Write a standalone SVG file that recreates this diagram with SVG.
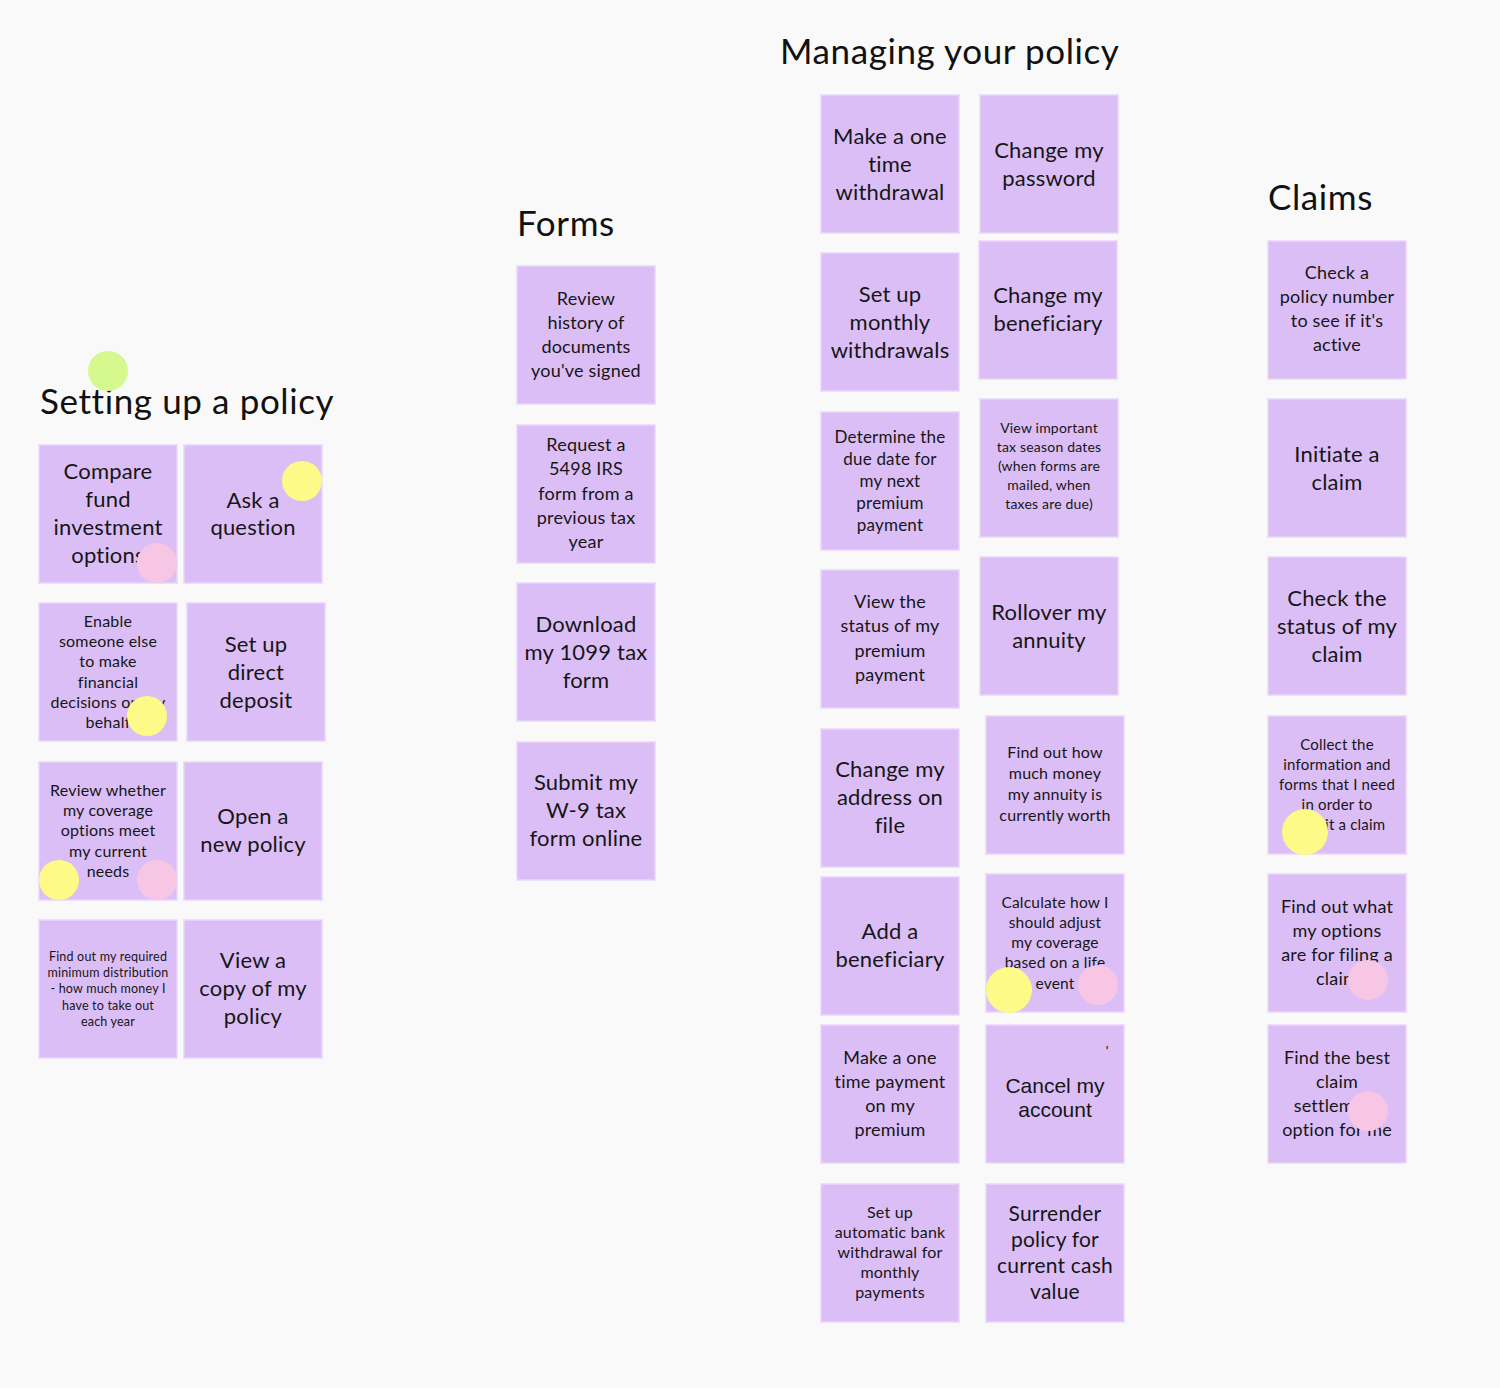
<svg xmlns="http://www.w3.org/2000/svg" width="1500" height="1388" viewBox="0 0 1500 1388">
<style>
.bg{fill:#f9f9f9}
.s{fill:#dcbef6;stroke:#e9d6fa;stroke-width:1.5}
.t{font-family:Lato,"Open Sans","Liberation Sans",sans-serif;fill:#161616;text-anchor:middle;letter-spacing:0.2px}
.h{font-family:Lato,"Open Sans","Liberation Sans",sans-serif;fill:#111;font-size:35px;letter-spacing:0.6px}
.xl{font-size:22px}.l{font-size:18px}.m{font-size:16px}.sm{font-size:14.5px}.xs{font-size:12.5px}
.a{font-family:"Liberation Sans",Arial,sans-serif;letter-spacing:0}
.y{fill:#fdfa87}.p{fill:#f6c6e4}.g{fill:#d5f98e}
</style>
<rect class="bg" width="1500" height="1388"/>

<g id="titles">
<text class="h" x="40" y="414">Setting up a policy</text>
<text class="h" x="517" y="236">Forms</text>
<text class="h" x="780" y="64">Managing your policy</text>
<text class="h" x="1268" y="210">Claims</text>
</g>

<!-- Setting up a policy -->
<g id="n-compare"><rect class="s" x="39" y="445" width="138" height="138"/>
<text class="t xl" x="108"><tspan x="108" y="479">Compare</tspan><tspan x="108" y="507">fund</tspan><tspan x="108" y="535">investment</tspan><tspan x="108" y="563">options</tspan></text></g>
<g id="n-ask"><rect class="s" x="184" y="445" width="138" height="138"/>
<text class="t xl"><tspan x="253" y="508">Ask a</tspan><tspan x="253" y="535">question</tspan></text></g>
<g id="n-enable"><rect class="s" x="39" y="603" width="138" height="138"/>
<text class="t m"><tspan x="108" y="627">Enable</tspan><tspan x="108" y="647">someone else</tspan><tspan x="108" y="667">to make</tspan><tspan x="108" y="688">financial</tspan><tspan x="108" y="708">decisions on my</tspan><tspan x="108" y="728">behalf</tspan></text></g>
<g id="n-deposit"><rect class="s" x="187" y="603" width="138" height="138"/>
<text class="t xl"><tspan x="256" y="652">Set up</tspan><tspan x="256" y="680">direct</tspan><tspan x="256" y="708">deposit</tspan></text></g>
<g id="n-review"><rect class="s" x="39" y="762" width="138" height="138"/>
<text class="t m"><tspan x="108" y="796">Review whether</tspan><tspan x="108" y="816">my coverage</tspan><tspan x="108" y="836">options meet</tspan><tspan x="108" y="857">my current</tspan><tspan x="108" y="877">needs</tspan></text></g>
<g id="n-open"><rect class="s" x="184" y="762" width="138" height="138"/>
<text class="t xl"><tspan x="253" y="824">Open a</tspan><tspan x="253" y="852">new policy</tspan></text></g>
<g id="n-rmd"><rect class="s" x="39" y="920" width="138" height="138"/>
<text class="t xs"><tspan x="108" y="961">Find out my required</tspan><tspan x="108" y="977">minimum distribution</tspan><tspan x="108" y="993">- how much money I</tspan><tspan x="108" y="1010">have to take out</tspan><tspan x="108" y="1026">each year</tspan></text></g>
<g id="n-viewcopy"><rect class="s" x="184" y="920" width="138" height="138"/>
<text class="t xl"><tspan x="253" y="968">View a</tspan><tspan x="253" y="996">copy of my</tspan><tspan x="253" y="1024">policy</tspan></text></g>

<!-- Forms -->
<g id="n-history"><rect class="s" x="517" y="266" width="138" height="138"/>
<text class="t l"><tspan x="586" y="305">Review</tspan><tspan x="586" y="329">history of</tspan><tspan x="586" y="353">documents</tspan><tspan x="586" y="377">you've signed</tspan></text></g>
<g id="n-5498"><rect class="s" x="517" y="425" width="138" height="138"/>
<text class="t l"><tspan x="586" y="451">Request a</tspan><tspan x="586" y="475">5498 IRS</tspan><tspan x="586" y="500">form from a</tspan><tspan x="586" y="524">previous tax</tspan><tspan x="586" y="548">year</tspan></text></g>
<g id="n-1099"><rect class="s" x="517" y="583" width="138" height="138"/>
<text class="t xl"><tspan x="586" y="632">Download</tspan><tspan x="586" y="660">my 1099 tax</tspan><tspan x="586" y="688">form</tspan></text></g>
<g id="n-w9"><rect class="s" x="517" y="742" width="138" height="138"/>
<text class="t xl"><tspan x="586" y="790">Submit my</tspan><tspan x="586" y="818">W-9 tax</tspan><tspan x="586" y="846">form online</tspan></text></g>

<!-- Managing your policy, left column -->
<g id="n-onewd"><rect class="s" x="821" y="95" width="138" height="138"/>
<text class="t xl"><tspan x="890" y="144">Make a one</tspan><tspan x="890" y="172">time</tspan><tspan x="890" y="200">withdrawal</tspan></text></g>
<g id="n-monthly"><rect class="s" x="821" y="253" width="138" height="138"/>
<text class="t xl"><tspan x="890" y="302">Set up</tspan><tspan x="890" y="330">monthly</tspan><tspan x="890" y="358">withdrawals</tspan></text></g>
<g id="n-duedate"><rect class="s" x="821" y="412" width="138" height="138"/>
<text class="t m" style="font-size:17px"><tspan x="890" y="443">Determine the</tspan><tspan x="890" y="465">due date for</tspan><tspan x="890" y="487">my next</tspan><tspan x="890" y="509">premium</tspan><tspan x="890" y="531">payment</tspan></text></g>
<g id="n-status"><rect class="s" x="821" y="570" width="138" height="138"/>
<text class="t l"><tspan x="890" y="608">View the</tspan><tspan x="890" y="632">status of my</tspan><tspan x="890" y="657">premium</tspan><tspan x="890" y="681">payment</tspan></text></g>
<g id="n-address"><rect class="s" x="821" y="729" width="138" height="138"/>
<text class="t xl"><tspan x="890" y="777">Change my</tspan><tspan x="890" y="805">address on</tspan><tspan x="890" y="833">file</tspan></text></g>
<g id="n-addbene"><rect class="s" x="821" y="877" width="138" height="138"/>
<text class="t xl"><tspan x="890" y="939">Add a</tspan><tspan x="890" y="967">beneficiary</tspan></text></g>
<g id="n-onepay"><rect class="s" x="821" y="1025" width="138" height="138"/>
<text class="t l"><tspan x="890" y="1064">Make a one</tspan><tspan x="890" y="1088">time payment</tspan><tspan x="890" y="1112">on my</tspan><tspan x="890" y="1136">premium</tspan></text></g>
<g id="n-autobank"><rect class="s" x="821" y="1184" width="138" height="138"/>
<text class="t m"><tspan x="890" y="1218">Set up</tspan><tspan x="890" y="1238">automatic bank</tspan><tspan x="890" y="1258">withdrawal for</tspan><tspan x="890" y="1278">monthly</tspan><tspan x="890" y="1298">payments</tspan></text></g>

<!-- Managing your policy, right column -->
<g id="n-password"><rect class="s" x="980" y="95" width="138" height="138"/>
<text class="t xl"><tspan x="1049" y="158">Change my</tspan><tspan x="1049" y="186">password</tspan></text></g>
<g id="n-chgbene"><rect class="s" x="979" y="241" width="138" height="138"/>
<text class="t xl"><tspan x="1048" y="303">Change my</tspan><tspan x="1048" y="331">beneficiary</tspan></text></g>
<g id="n-taxdates"><rect class="s" x="980" y="399" width="138" height="138"/>
<text class="t sm" style="font-size:14px"><tspan x="1049" y="433">View important</tspan><tspan x="1049" y="452">tax season dates</tspan><tspan x="1049" y="471">(when forms are</tspan><tspan x="1049" y="490">mailed, when</tspan><tspan x="1049" y="509">taxes are due)</tspan></text></g>
<g id="n-rollover"><rect class="s" x="980" y="557" width="138" height="138"/>
<text class="t xl"><tspan x="1049" y="620">Rollover my</tspan><tspan x="1049" y="648">annuity</tspan></text></g>
<g id="n-worth"><rect class="s" x="986" y="716" width="138" height="138"/>
<text class="t m"><tspan x="1055" y="758">Find out how</tspan><tspan x="1055" y="779">much money</tspan><tspan x="1055" y="800">my annuity is</tspan><tspan x="1055" y="821">currently worth</tspan></text></g>
<g id="n-calc"><rect class="s" x="986" y="874" width="138" height="138"/>
<text class="t m" style="font-size:15.5px"><tspan x="1055" y="908">Calculate how I</tspan><tspan x="1055" y="928">should adjust</tspan><tspan x="1055" y="948">my coverage</tspan><tspan x="1055" y="968">based on a life</tspan><tspan x="1055" y="989">event</tspan></text></g>
<g id="n-cancel"><rect class="s" x="986" y="1025" width="138" height="138"/>
<text class="a" x="1107" y="1056" font-size="14" fill="#161616" text-anchor="middle">'</text>
<text class="t a" style="font-size:21px"><tspan x="1055" y="1093">Cancel my</tspan><tspan x="1055" y="1117">account</tspan></text></g>
<g id="n-surrender"><rect class="s" x="986" y="1184" width="138" height="138"/>
<text class="t xl" style="font-size:21px"><tspan x="1055" y="1221">Surrender</tspan><tspan x="1055" y="1247">policy for</tspan><tspan x="1055" y="1273">current cash</tspan><tspan x="1055" y="1299">value</tspan></text></g>

<!-- Claims -->
<g id="n-checkpolicy"><rect class="s" x="1268" y="241" width="138" height="138"/>
<text class="t l"><tspan x="1337" y="279">Check a</tspan><tspan x="1337" y="303">policy number</tspan><tspan x="1337" y="327">to see if it's</tspan><tspan x="1337" y="351">active</tspan></text></g>
<g id="n-initiate"><rect class="s" x="1268" y="399" width="138" height="138"/>
<text class="t xl"><tspan x="1337" y="462">Initiate a</tspan><tspan x="1337" y="490">claim</tspan></text></g>
<g id="n-claimstatus"><rect class="s" x="1268" y="557" width="138" height="138"/>
<text class="t xl"><tspan x="1337" y="606">Check the</tspan><tspan x="1337" y="634">status of my</tspan><tspan x="1337" y="662">claim</tspan></text></g>
<g id="n-collect"><rect class="s" x="1268" y="716" width="138" height="138"/>
<text class="t m" style="font-size:15px"><tspan x="1337" y="750">Collect the</tspan><tspan x="1337" y="770">information and</tspan><tspan x="1337" y="790">forms that I need</tspan><tspan x="1337" y="810">in order to</tspan><tspan x="1337" y="830">submit a claim</tspan></text></g>
<g id="n-filing"><rect class="s" x="1268" y="874" width="138" height="138"/>
<text class="t l"><tspan x="1337" y="913">Find out what</tspan><tspan x="1337" y="937">my options</tspan><tspan x="1337" y="961">are for filing a</tspan><tspan x="1337" y="985">claim</tspan></text></g>
<g id="n-settlement"><rect class="s" x="1268" y="1025" width="138" height="138"/>
<text class="t l"><tspan x="1337" y="1064">Find the best</tspan><tspan x="1337" y="1088">claim</tspan><tspan x="1337" y="1112">settlement</tspan><tspan x="1337" y="1136">option for me</tspan></text></g>

<g id="dots">
<circle class="g" cx="108" cy="371" r="20"/>
<circle class="p" cx="157" cy="563" r="20"/>
<circle class="y" cx="302" cy="481" r="20"/>
<circle class="y" cx="147" cy="716" r="20"/>
<circle class="y" cx="59" cy="880" r="20"/>
<circle class="p" cx="157" cy="880" r="20"/>
<circle class="y" cx="1009" cy="990" r="23"/>
<circle class="p" cx="1098" cy="985" r="20"/>
<circle class="y" cx="1305" cy="832" r="23"/>
<circle class="p" cx="1368" cy="980" r="20"/>
<circle class="p" cx="1368" cy="1111" r="20"/>
</g>
</svg>
